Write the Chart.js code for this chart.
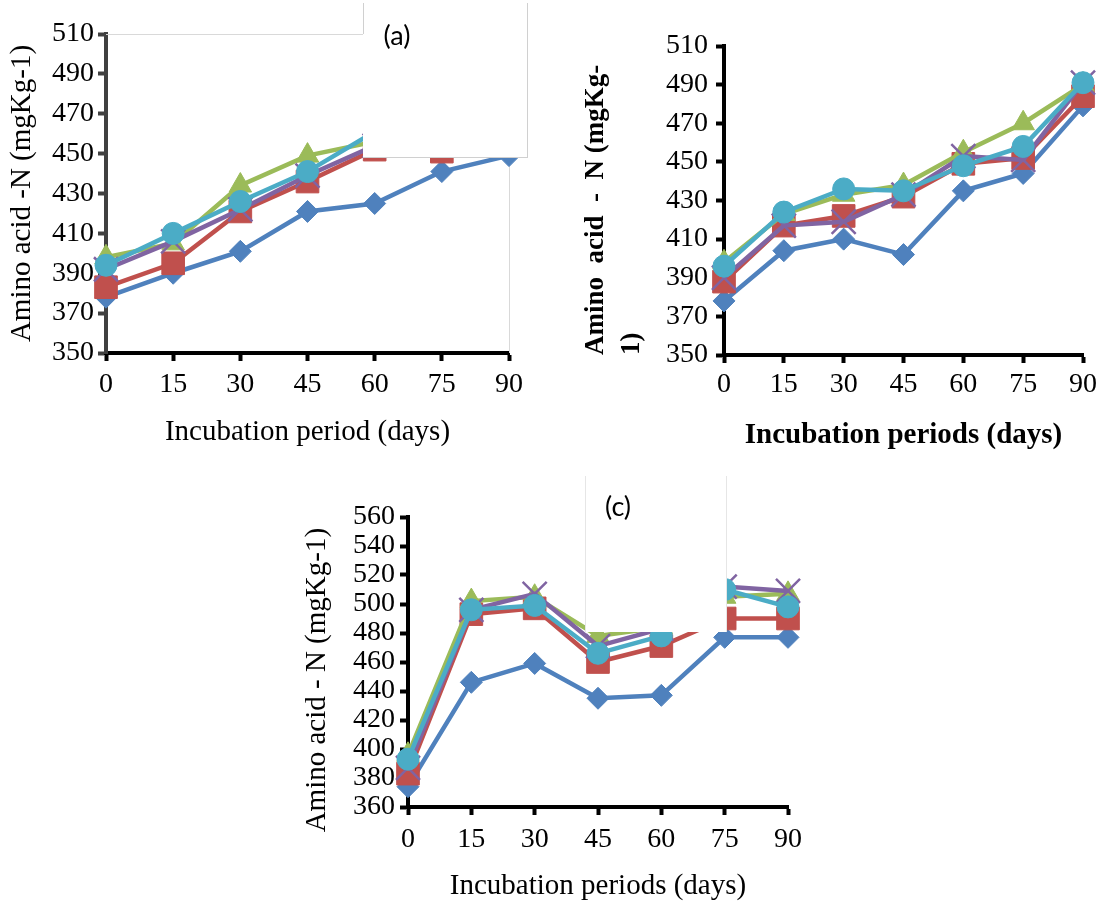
<!DOCTYPE html>
<html>
<head>
<meta charset="utf-8">
<title>Amino acid-N during incubation</title>
<script src="https://cdn.jsdelivr.net/npm/chart.js@4.4.0/dist/chart.umd.min.js"></script>
<style>
  html, body { margin: 0; padding: 0; background: #fff; }
  body { width: 1097px; height: 901px; position: relative; overflow: hidden; }
  canvas { position: absolute; }
  #chartA { left: 0; top: 0; }
  #chartB { left: 560px; top: 0; }
  #chartC { left: 290px; top: 470px; }
</style>
</head>
<body>
<canvas id="chartA" width="545" height="450"></canvas>
<canvas id="chartB" width="567" height="450"></canvas>
<canvas id="chartC" width="520" height="431"></canvas>
<script>
// Incubation days (x axis, same for all panels)
const days = ["0", "15", "30", "45", "60", "75", "90"];
const seriesNames = ["Series 1", "Series 2", "Series 3", "Series 4", "Series 5"];

// Panel (a) values
const blueA = [378, 390, 401, 421, 425, 441, 449];
const redA = [383, 395, 421, 436, 452, 451, 470];
const greenA = [398, 405, 434, 449, 456, 468, 480];
const purpleA = [392, 406, 422, 439, 454, 462, 477];
const cyanA = [394, 410, 426, 441, 461, 466, 482];
const yTicksA = [350, 370, 390, 410, 430, 450, 470, 490, 510];

// Panel (b) values
const blueB = [378, 404, 410, 402, 435, 444, 479];
const redB = [388, 417, 422, 432, 449, 452, 484];
const greenB = [398, 423, 433, 438, 455, 470, 490];
const purpleB = [390, 417, 419, 433, 453, 451, 491];
const cyanB = [396, 424, 436, 435, 448, 458, 491];
const yTicksB = [350, 370, 390, 410, 430, 450, 470, 490, 510];

// Panel (c) values
const blueC = [374, 446, 459, 435, 437, 477, 477];
const redC = [383, 493, 497, 460, 471, 490, 490];
const greenC = [396, 502, 505, 478, 484, 505, 507];
const purpleC = [387, 496, 507, 471, 483, 512, 509];
const cyanC = [393, 496, 499, 466, 478, 510, 498];
const yTicksC = [360, 380, 400, 420, 440, 460, 480, 500, 520, 540, 560];

// Series styling (Excel 2007 palette)
const colors = ["#4F81BD", "#C0504D", "#9BBB59", "#8064A2", "#4BACC6"];
const pointStyles = ["rectRot", "rect", "triangle", "crossRot", "circle"];
const pointSizes = [11, 16, 13, 17, 11];

const serif = "'Liberation Serif', 'Times New Roman', serif";
Chart.defaults.font.family = serif;
Chart.defaults.color = "#000";

function buildDatasets(seriesList) {
  return seriesList.map((values, i) => ({
    label: seriesNames[i],
    data: values,
    borderColor: colors[i],
    backgroundColor: colors[i],
    borderWidth: 4.5,
    tension: 0,
    pointStyle: pointStyles[i],
    pointRadius: pointSizes[i],
    pointBackgroundColor: colors[i],
    pointBorderColor: colors[i],
    pointBorderWidth: pointStyles[i] === "crossRot" ? 2.5 : 1,
    clip: false,
    // last series drawn on top, like the original
    order: seriesList.length - 1 - i,
  }));
}

function yAxis(ticks, o) {
  return {
    type: "linear",
    min: ticks[0],
    max: ticks[ticks.length - 1],
    afterBuildTicks: (scale) => {
      scale.ticks = ticks.map((v) => ({ value: v }));
    },
    ticks: { font: { size: 28 }, color: "#000", padding: o.tickPad, autoSkip: false },
    grid: {
      drawOnChartArea: false,
      drawTicks: true,
      tickLength: 8,
      tickWidth: 4,
      tickColor: o.axisColor,
    },
    border: { display: true, width: 4, color: o.axisColor },
    title: o.title,
    afterFit: (scale) => {
      scale.width = o.width;
    },
  };
}

function xAxis(o) {
  return {
    type: "category",
    offset: false,
    ticks: {
      font: { size: 28 },
      color: "#000",
      padding: o.tickPad,
      autoSkip: false,
      maxRotation: 0,
    },
    grid: {
      drawOnChartArea: false,
      drawTicks: true,
      tickLength: 8,
      tickWidth: 4,
      tickColor: "#000",
    },
    border: { display: true, width: 4, color: "#000" },
    title: o.title,
    afterFit: (scale) => {
      scale.height = o.height;
    },
  };
}

// Thin grey plot-area frame (top and right edges only)
function plotFrame(color) {
  return {
    id: "plotFrame",
    beforeDatasetsDraw(chart) {
      const { ctx, chartArea: a } = chart;
      ctx.save();
      ctx.strokeStyle = color;
      ctx.lineWidth = 1;
      ctx.beginPath();
      ctx.moveTo(a.left, a.top + 0.5);
      ctx.lineTo(a.right + 0.5, a.top + 0.5);
      ctx.lineTo(a.right + 0.5, a.bottom);
      ctx.stroke();
      ctx.restore();
    },
  };
}

// White patch laid over part of a panel, holding the panel tag
function coverBox(box) {
  return {
    id: "coverBox",
    afterDraw(chart) {
      const ctx = chart.ctx;
      const r = box.x + box.w;
      const b = box.y + box.h;
      ctx.save();
      ctx.fillStyle = "#fff";
      ctx.fillRect(box.x, box.y, box.w, box.h);
      ctx.strokeStyle = box.edge;
      ctx.lineWidth = 1;
      ctx.beginPath();
      ctx.moveTo(box.x + 0.5, box.y);
      ctx.lineTo(box.x + 0.5, box.leftEnd);
      ctx.moveTo(r - 0.5, box.y);
      ctx.lineTo(r - 0.5, b);
      if (box.bottomEdge) {
        ctx.moveTo(box.x, b - 0.5);
        ctx.lineTo(r, b - 0.5);
      }
      ctx.stroke();
      ctx.fillStyle = "#000";
      ctx.font = "27px Lato, 'Open Sans', sans-serif";
      ctx.textAlign = "center";
      ctx.textBaseline = "middle";
      ctx.fillText(box.label, box.labelX, box.labelY);
      ctx.restore();
    },
  };
}

function makeChart(id, series, yTicks, o) {
  const ctx = document.getElementById(id).getContext("2d");
  return new Chart(ctx, {
    type: "line",
    data: { labels: days, datasets: buildDatasets(series) },
    options: {
      responsive: false,
      animation: false,
      layout: { padding: o.padding },
      plugins: { legend: { display: false }, tooltip: { enabled: false } },
      scales: {
        x: xAxis(o.x),
        y: yAxis(yTicks, o.y),
      },
    },
    plugins: o.plugins,
  });
}

// Panel (a)
const chartA = makeChart("chartA", [blueA, redA, greenA, purpleA, cyanA], yTicksA, {
  padding: { left: 0, top: 34, right: 36, bottom: 0 },
  x: {
    height: 97,
    tickPad: 7,
    title: {
      display: true,
      text: "Incubation period (days)",
      font: { size: 29, lineHeight: 1.2 },
      color: "#000",
      padding: { top: 0, bottom: 0 },
    },
  },
  y: {
    width: 106,
    tickPad: 4,
    axisColor: "#404040",
    title: {
      display: true,
      text: "Amino acid -N (mgKg-1)",
      font: { size: 29, lineHeight: 1.2 },
      color: "#000",
      padding: { top: 5, bottom: 0 },
    },
  },
  plugins: [
    plotFrame("#d9d9d9"),
    coverBox({
      x: 363, y: 3, w: 165, h: 155, leftEnd: 34, bottomEdge: true,
      edge: "#d0d0d0", label: "(a)", labelX: 397, labelY: 36,
    }),
  ],
});

// Panel (b) - canvas runs past the page edge, as the original is cut there
const chartB = makeChart("chartB", [blueB, redB, greenB, purpleB, cyanB], yTicksB, {
  padding: { left: 0, top: 46, right: 44, bottom: 0 },
  x: {
    height: 95,
    tickPad: 5,
    title: {
      display: true,
      text: "Incubation periods (days)",
      font: { size: 29, weight: "bold", lineHeight: 1.0 },
      color: "#000",
      padding: { top: 0, bottom: 0 },
    },
  },
  y: {
    width: 164,
    tickPad: 8,
    axisColor: "#000",
    title: {
      display: true,
      text: ["Amino  acid  -  N (mgKg-", "1)"],
      align: "start",
      font: { size: 27, weight: "bold", lineHeight: 1.333 },
      color: "#000",
      padding: { top: 18, bottom: 0 },
    },
  },
  plugins: [],
});

// Panel (c)
const chartC = makeChart("chartC", [blueC, redC, greenC, purpleC, cyanC], yTicksC, {
  padding: { left: 0, top: 47, right: 20, bottom: 0 },
  x: {
    height: 94,
    tickPad: 8,
    title: {
      display: true,
      text: "Incubation periods (days)",
      font: { size: 29, lineHeight: 1.0 },
      color: "#000",
      padding: { top: 0, bottom: 0 },
    },
  },
  y: {
    width: 118,
    tickPad: 5,
    axisColor: "#000",
    title: {
      display: true,
      text: "Amino acid - N (mgKg-1)     ",
      font: { size: 29, lineHeight: 1.0 },
      color: "#000",
      padding: { top: 13, bottom: 0 },
    },
  },
  plugins: [
    coverBox({
      x: 295, y: 6, w: 142, h: 156, leftEnd: 162, bottomEdge: false,
      edge: "#e6e6e6", label: "(c)", labelX: 328, labelY: 37,
    }),
  ],
});
</script>
</body>
</html>
